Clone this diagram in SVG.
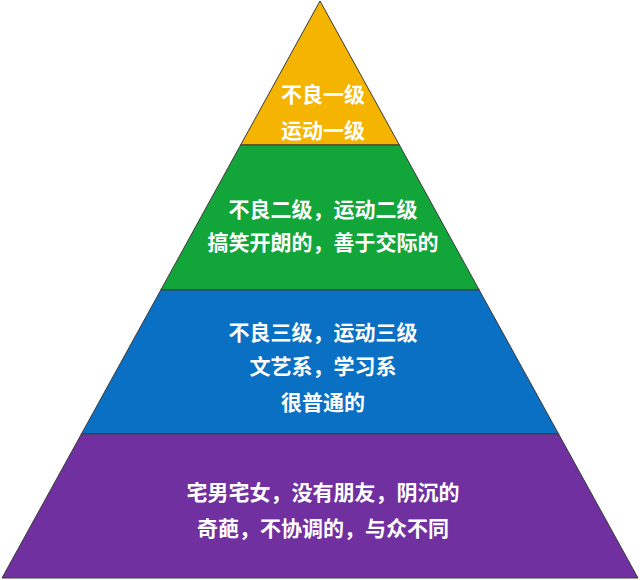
<svg xmlns="http://www.w3.org/2000/svg" width="640" height="580" viewBox="0 0 640 580">
<style>
.l{stroke:#3a3a3a;stroke-width:1}
text{font-family:"Noto Sans CJK SC","Noto Sans",sans-serif;font-weight:bold;font-size:21px;fill:#fff;text-anchor:middle}
</style>
<rect width="640" height="580" fill="#fff"/>
<g id="top"><polygon class="l" points="320,1 240.6,145 399.4,145" fill="#F5B400"/>
<text x="323" y="102">不良一级</text><text x="323" y="138">运动一级</text></g>
<g id="second"><polygon class="l" points="240.6,145 399.4,145 479.2,290 160.8,290" fill="#12A53A"/>
<text x="323" y="217">不良二级，运动二级</text><text x="323" y="250">搞笑开朗的，善于交际的</text></g>
<g id="third"><polygon class="l" points="160.8,290 479.2,290 558.6,434 81.4,434" fill="#0A70C4"/>
<text x="323" y="340">不良三级，运动三级</text><text x="323" y="374">文艺系，学习系</text><text x="323" y="410">很普通的</text></g>
<g id="bottom"><polygon class="l" points="81.4,434 558.6,434 638,578 2,578" fill="#7030A0"/>
<text x="323" y="500">宅男宅女，没有朋友，阴沉的</text><text x="323" y="536">奇葩，不协调的，与众不同</text></g>
</svg>
